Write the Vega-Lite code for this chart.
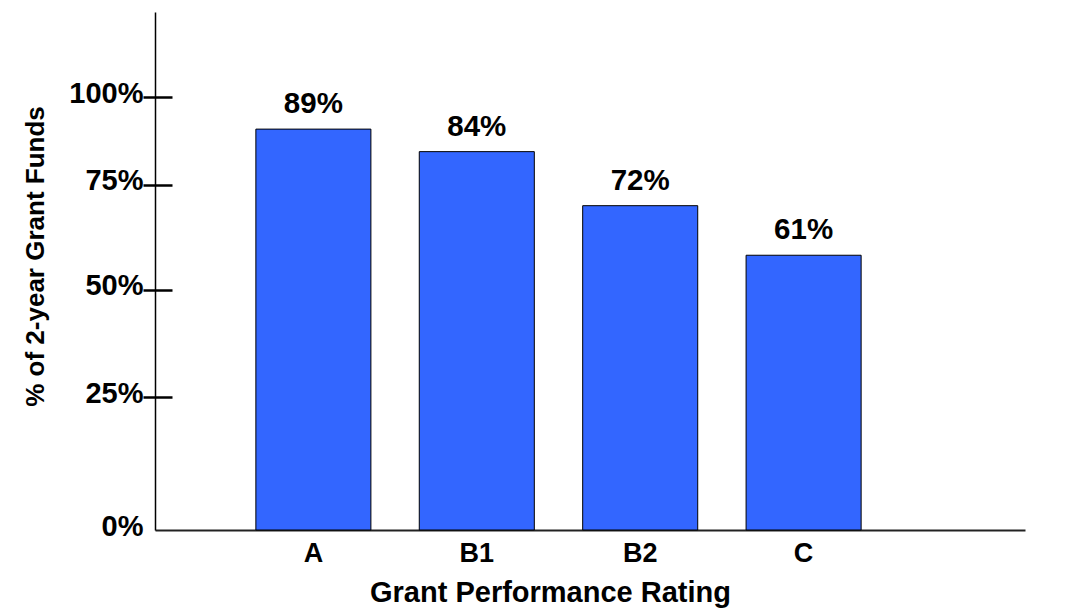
{
  "$schema": "https://vega.github.io/schema/vega-lite/v6.json",
  "autosize": "none",
  "width": 870,
  "height": 518,
  "padding": {"left": 155, "top": 12, "right": 47, "bottom": 80},
  "background": "white",
  "config": {"view": {"stroke": null}, "font": "Liberation Sans"},
  "data": {"values": [
    {"rating": "A", "pct": 0.89},
    {"rating": "B1", "pct": 0.84},
    {"rating": "B2", "pct": 0.72},
    {"rating": "C", "pct": 0.61}
  ]},
  "encoding": {
    "x": {
      "field": "rating", "type": "nominal", "sort": null,
      "scale": {"paddingInner": 0.296, "paddingOuter": 0.81, "align": 0.381},
      "axis": {
        "labelAngle": 0, "ticks": false, "domain": true, "domainColor": "#222", "domainWidth": 2,
        "labelFontSize": 27, "labelFontWeight": "bold", "labelColor": "black", "labelPadding": 10,
        "title": "Grant Performance Rating", "titleFontSize": 29, "titleFontWeight": "bold", "titleColor": "black",
        "titleX": 395, "titleY": 62, "titleBaseline": "middle", "titleAnchor": null, "titleAlign": "center"
      }
    }
  },
  "layer": [
    {
      "mark": {"type": "bar", "color": "#3366FF", "stroke": "black", "strokeWidth": 1},
      "encoding": {
        "y": {
          "field": "pct", "type": "quantitative",
          "scale": {"domain": [0, 1.15], "nice": false},
          "axis": {
            "orient": "left", "values": [0, 0.295, 0.533, 0.766, 0.961],
            "labelExpr": "datum.value < 0.1 ? '0%' : datum.value < 0.4 ? '25%' : datum.value < 0.6 ? '50%' : datum.value < 0.85 ? '75%' : '100%'",
            "ticks": false, "grid": false, "domain": true, "domainColor": "black", "domainWidth": 1.5,
            "labelFontSize": 29, "labelFontWeight": "bold", "labelColor": "black", "labelPadding": 12, "labelOffset": -4,
            "title": "% of 2-year Grant Funds", "titleFontSize": 26, "titleFontWeight": "bold", "titleColor": "black",
            "titleAngle": 270, "titleX": -120, "titleY": 244, "titleBaseline": "middle", "titleAlign": "center", "titleAnchor": null
          }
        }
      }
    },
    {
      "mark": {"type": "text", "baseline": "bottom", "dy": -10, "fontSize": 29.5, "fontWeight": "bold", "color": "black"},
      "encoding": {
        "y": {
          "field": "pct", "type": "quantitative",
          "axis": {
            "orient": "left", "values": [0.295, 0.533, 0.766, 0.961],
            "labels": false, "domain": false, "grid": false, "ticks": true,
            "tickSize": 29, "tickWidth": 2.5, "tickColor": "black", "offset": -17, "title": null
          }
        },
        "text": {"field": "pct", "type": "quantitative", "format": ".0%"}
      }
    }
  ],
  "resolve": {"axis": {"y": "independent"}}
}
